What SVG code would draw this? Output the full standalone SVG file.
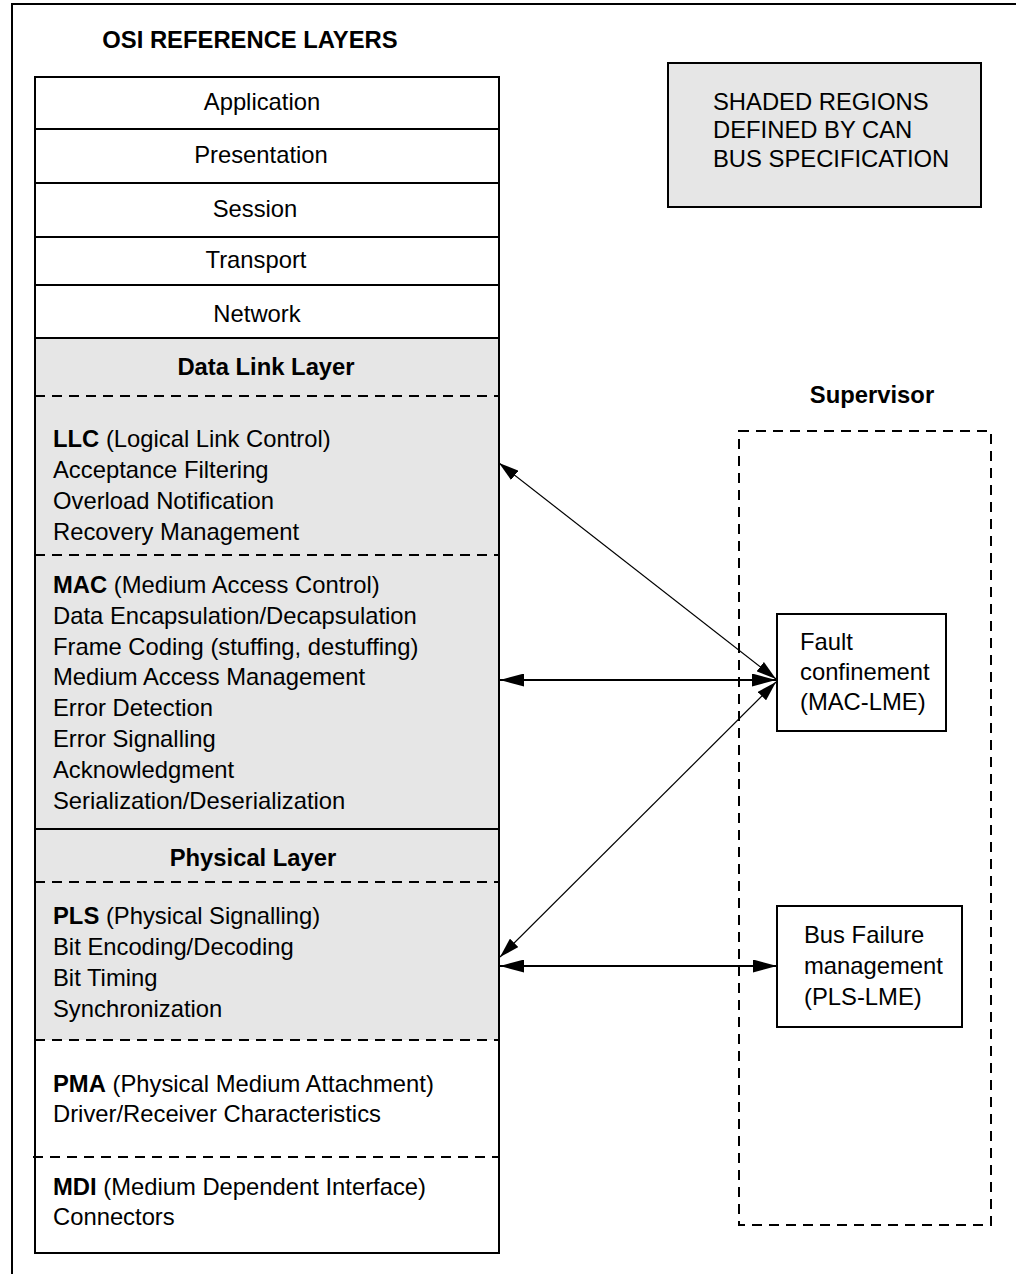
<svg xmlns="http://www.w3.org/2000/svg" width="1016" height="1274" viewBox="0 0 1016 1274">
<style>
text{font-family:"Liberation Sans",Arial,Helvetica,sans-serif;font-size:23.8px;fill:#000}
.b{font-weight:bold}
.c{text-anchor:middle}
.solid{fill:none;stroke:#000;stroke-width:2}
.dash{fill:none;stroke:#000;stroke-width:2;stroke-dasharray:10 7}
.shade{fill:#e6e6e6;stroke:none}
.thick{stroke:#000;stroke-width:2;fill:none;marker-start:url(#ahT);marker-end:url(#ahT)}
.thin{stroke:#000;stroke-width:1.2;fill:none;marker-start:url(#ah);marker-end:url(#ah)}
</style>
<defs>
<marker id="ahT" markerUnits="userSpaceOnUse" viewBox="0 0 24 13" markerWidth="24" markerHeight="13" refX="24" refY="6.5" orient="auto-start-reverse"><path d="M0,0 L24,6.5 L0,13 z" fill="#000"/></marker>
<marker id="ah" markerUnits="userSpaceOnUse" viewBox="0 0 20 12" markerWidth="20" markerHeight="12" refX="20" refY="6" orient="auto-start-reverse"><path d="M0,0 L20,6 L0,12 z" fill="#000"/></marker>
</defs>
<rect width="1016" height="1274" fill="#fff"/>
<path class="solid" d="M12,1274 V4 H1016"/>
<text class="b c" x="250" y="48">OSI REFERENCE LAYERS</text>

<g id="osi-stack">
<rect class="shade" x="35" y="338" width="464" height="702"/>
<rect class="solid" x="35" y="77" width="464" height="1176"/>
<g id="application"><line class="solid" x1="35" y1="129" x2="499" y2="129"/><text class="c" x="262" y="110">Application</text></g>
<g id="presentation"><line class="solid" x1="35" y1="183" x2="499" y2="183"/><text class="c" x="261" y="163">Presentation</text></g>
<g id="session"><line class="solid" x1="35" y1="237" x2="499" y2="237"/><text class="c" x="255" y="217">Session</text></g>
<g id="transport"><line class="solid" x1="35" y1="285" x2="499" y2="285"/><text class="c" x="256" y="268">Transport</text></g>
<g id="network"><line class="solid" x1="35" y1="338" x2="499" y2="338"/><text class="c" x="257" y="322">Network</text></g>
<g id="data-link-layer"><text class="b c" x="266" y="375">Data Link Layer</text><line class="dash" x1="35" y1="396" x2="499" y2="396"/></g>
<g id="llc">
<text x="53" y="447"><tspan class="b">LLC</tspan> (Logical Link Control)</text>
<text x="53" y="478">Acceptance Filtering</text>
<text x="53" y="509">Overload Notification</text>
<text x="53" y="540">Recovery Management</text>
<line class="dash" x1="35" y1="555" x2="499" y2="555"/>
</g>
<g id="mac">
<text x="53" y="593"><tspan class="b">MAC</tspan> (Medium Access Control)</text>
<text x="53" y="624">Data Encapsulation/Decapsulation</text>
<text x="53" y="655">Frame Coding (stuffing, destuffing)</text>
<text x="53" y="685">Medium Access Management</text>
<text x="53" y="716">Error Detection</text>
<text x="53" y="747">Error Signalling</text>
<text x="53" y="778">Acknowledgment</text>
<text x="53" y="809">Serialization/Deserialization</text>
<line class="solid" x1="35" y1="829" x2="499" y2="829"/>
</g>
<g id="physical-layer"><text class="b c" x="253" y="866">Physical Layer</text><line class="dash" x1="35" y1="882" x2="499" y2="882"/></g>
<g id="pls">
<text x="53" y="924"><tspan class="b">PLS</tspan> (Physical Signalling)</text>
<text x="53" y="955">Bit Encoding/Decoding</text>
<text x="53" y="986">Bit Timing</text>
<text x="53" y="1017">Synchronization</text>
<line class="dash" x1="35" y1="1040" x2="499" y2="1040"/>
</g>
<g id="pma">
<text x="53" y="1092"><tspan class="b">PMA</tspan> (Physical Medium Attachment)</text>
<text x="53" y="1122">Driver/Receiver Characteristics</text>
<line class="dash" x1="33" y1="1157" x2="499" y2="1157"/>
</g>
<g id="mdi">
<text x="53" y="1195"><tspan class="b">MDI</tspan> (Medium Dependent Interface)</text>
<text x="53" y="1225">Connectors</text>
</g>
</g>

<g id="legend">
<rect x="668" y="63" width="313" height="144" fill="#e6e6e6" stroke="#000" stroke-width="2"/>
<text x="713" y="110">SHADED REGIONS</text>
<text x="713" y="138">DEFINED BY CAN</text>
<text x="713" y="167">BUS SPECIFICATION</text>
</g>

<g id="supervisor">
<text class="b c" x="872" y="403">Supervisor</text>
<rect class="dash" x="739" y="431" width="252" height="794"/>
</g>

<g id="fault-confinement">
<rect class="solid" x="777" y="614" width="169" height="117" fill="#fff"/>
<text x="800" y="650">Fault</text>
<text x="800" y="680">confinement</text>
<text x="800" y="710">(MAC-LME)</text>
</g>

<g id="bus-failure">
<rect class="solid" x="777" y="906" width="185" height="121" fill="#fff"/>
<text x="804" y="943">Bus Failure</text>
<text x="804" y="974">management</text>
<text x="804" y="1005">(PLS-LME)</text>
</g>

<g id="connectors">
<line class="thin" x1="499" y1="463" x2="776" y2="679"/>
<line class="thick" x1="500" y1="680" x2="776" y2="680"/>
<line class="thin" x1="776" y1="682" x2="500" y2="957"/>
<line class="thick" x1="500" y1="966" x2="777" y2="966"/>
</g>
</svg>
